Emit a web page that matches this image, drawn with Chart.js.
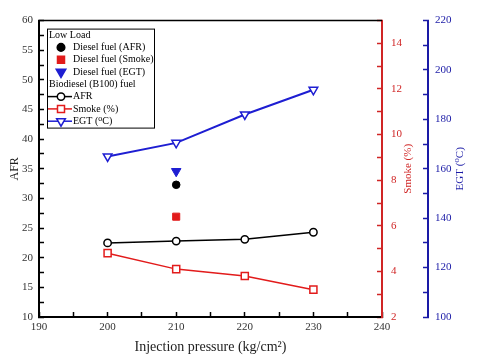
<!DOCTYPE html>
<html>
<head>
<meta charset="utf-8">
<script src="https://cdn.jsdelivr.net/npm/chart.js@4.4.0/dist/chart.umd.min.js"></script>
<style>
    html, body { margin: 0; padding: 0; background: #fff; }
</style>
</head>
<body>
<canvas id="chart-afr" width="480" height="360"></canvas>
<script>
// data
const tekanan = [200, 210, 220, 230];
const afrB100 = [22.5, 22.8, 23.1, 24.3];
const smokeB100 = [4.8, 4.1, 3.8, 3.2];
const egtB100 = [165, 170.5, 182, 192];
const tekananDiesel = [210];
const afrDiesel = [32.3];
const smokeDiesel = [6.4];
const egtDiesel = [159];

const merah = "#e21b1b";
const biru = "#1e1ed2";
const merahSumbu = "#d02525";
const biruSumbu = "#1a1aa6";
const fontSerif = '"Liberation Serif", "DejaVu Serif", serif';

Chart.defaults.font.family = fontSerif;

function toXY(xs, ys) {
    return xs.map((x, i) => ({ x: x, y: ys[i] }));
}

// frame line on top of the plot area + right axis titles (read bottom-to-top)
const bingkai = {
    id: "bingkai",
    beforeDatasetsDraw(chart) {
        const a = chart.chartArea;
        const ctx = chart.ctx;
        ctx.save();
        ctx.strokeStyle = "#000";
        ctx.lineWidth = 1.5;
        ctx.beginPath();
        ctx.moveTo(a.left, a.top);
        ctx.lineTo(a.right, a.top);
        ctx.stroke();

        [["y1", 26], ["y2", 32]].forEach(([id, geser]) => {
            const s = chart.scales[id];
            const t = s.options.title;
            ctx.save();
            ctx.translate(s.left + geser, (s.top + s.bottom) / 2);
            ctx.rotate(-Math.PI / 2);
            ctx.font = "11px " + fontSerif;
            ctx.fillStyle = t.color;
            ctx.textAlign = "center";
            ctx.textBaseline = "middle";
            ctx.fillText(t.text, 0, 0);
            ctx.restore();
        });
        ctx.restore();
    },
};

function gambarTitik(ctx, style, x, y, r, warna, isi) {
    ctx.beginPath();
    if (style === "circle") {
        ctx.arc(x, y, r, 0, Math.PI * 2);
    } else if (style === "rect") {
        ctx.rect(x - r * 0.7, y - r * 0.7, r * 1.4, r * 1.4);
    } else {
        // downward triangle
        ctx.moveTo(x - r * 0.87, y - r * 0.5);
        ctx.lineTo(x + r * 0.87, y - r * 0.5);
        ctx.lineTo(x, y + r);
        ctx.closePath();
    }
    ctx.fillStyle = isi;
    ctx.fill();
    ctx.strokeStyle = warna;
    ctx.lineWidth = 1.5;
    ctx.stroke();
}

// legend drawn inside the plot, with group headers
const legendaDalam = {
    id: "legendaDalam",
    afterDatasetsDraw(chart) {
        const a = chart.chartArea;
        const ctx = chart.ctx;
        const kiri = a.left + 8;
        const atas = a.top + 8;
        const baris = [
            { judul: "Low Load" },
            { ds: 3 },
            { ds: 4 },
            { ds: 5 },
            { judul: "Biodiesel (B100) fuel" },
            { ds: 0, garis: true },
            { ds: 1, garis: true },
            { ds: 2, garis: true },
        ];
        ctx.save();
        ctx.fillStyle = "#fff";
        ctx.fillRect(kiri, atas, 107, 99);
        ctx.strokeStyle = "#000";
        ctx.lineWidth = 1;
        ctx.strokeRect(kiri + 0.5, atas + 0.5, 107, 99);
        ctx.font = "10px " + fontSerif;
        ctx.textBaseline = "middle";
        baris.forEach((b, i) => {
            const y = atas + 6.5 + 12.3 * i;
            ctx.fillStyle = "#000";
            if (b.judul) {
                ctx.textAlign = "left";
                ctx.fillText(b.judul, kiri + 2, y);
                return;
            }
            const d = chart.data.datasets[b.ds];
            if (b.garis) {
                ctx.strokeStyle = d.borderColor;
                ctx.lineWidth = 1.5;
                ctx.beginPath();
                ctx.moveTo(kiri + 1, y);
                ctx.lineTo(kiri + 25, y);
                ctx.stroke();
            }
            gambarTitik(ctx, d.pointStyle, kiri + 14, y, d.pointRadius, d.pointBorderColor, d.pointBackgroundColor);
            ctx.fillStyle = "#000";
            ctx.textAlign = "left";
            ctx.fillText(d.label, kiri + 26, y);
        });
        ctx.restore();
    },
};

const chartAfr = new Chart(document.getElementById("chart-afr"), {
    type: "line",
    data: {
        datasets: [
            {
                label: "AFR",
                data: toXY(tekanan, afrB100),
                yAxisID: "y",
                borderColor: "#000",
                borderWidth: 1.5,
                pointStyle: "circle",
                pointRadius: 3.7,
                pointBorderColor: "#000",
                pointBackgroundColor: "#fff",
                pointBorderWidth: 1.5,
            },
            {
                label: "Smoke (%)",
                data: toXY(tekanan, smokeB100),
                yAxisID: "y1",
                borderColor: merah,
                borderWidth: 1.5,
                pointStyle: "rect",
                pointRadius: 5,
                pointBorderColor: merah,
                pointBackgroundColor: "#fff",
                pointBorderWidth: 1.5,
            },
            {
                label: "EGT (\u2070C)",
                data: toXY(tekanan, egtB100),
                yAxisID: "y2",
                borderColor: biru,
                borderWidth: 2,
                pointStyle: "triangle",
                pointRotation: 180,
                pointRadius: 5,
                pointBorderColor: biru,
                pointBackgroundColor: "#fff",
                pointBorderWidth: 1.5,
            },
            {
                label: "Diesel fuel (AFR)",
                data: toXY(tekananDiesel, afrDiesel),
                yAxisID: "y",
                showLine: false,
                borderColor: "#000",
                pointStyle: "circle",
                pointRadius: 3.8,
                pointBorderColor: "#000",
                pointBackgroundColor: "#000",
            },
            {
                label: "Diesel fuel (Smoke)",
                data: toXY(tekananDiesel, smokeDiesel),
                yAxisID: "y1",
                showLine: false,
                borderColor: merah,
                pointStyle: "rect",
                pointRadius: 5,
                pointBorderColor: merah,
                pointBackgroundColor: merah,
            },
            {
                label: "Diesel fuel (EGT)",
                data: toXY(tekananDiesel, egtDiesel),
                yAxisID: "y2",
                showLine: false,
                borderColor: biru,
                pointStyle: "triangle",
                pointRotation: 180,
                pointRadius: 5.5,
                pointBorderColor: biru,
                pointBackgroundColor: biru,
            },
        ],
    },
    options: {
        responsive: false,
        animation: false,
        layout: { padding: { top: 19, right: 0, left: 0, bottom: 0 } },
        plugins: {
            legend: { display: false },
            tooltip: { enabled: false },
        },
        scales: {
            x: {
                type: "linear",
                min: 190,
                max: 240,
                afterFit: (s) => { s.height = 43; },
                border: { color: "#000", width: 2 },
                grid: { drawOnChartArea: false, tickLength: -5, color: "#000", tickWidth: 1.5 },
                ticks: {
                    stepSize: 5,
                    autoSkip: false,
                    maxRotation: 0,
                    padding: 9,
                    color: "#333",
                    font: { size: 11 },
                    callback: (v) => (v % 10 === 0 ? v : ""),
                },
                title: {
                    display: true,
                    text: "Injection pressure (kg/cm\u00b2)",
                    color: "#222",
                    font: { size: 14 },
                    padding: { top: 0, bottom: 4 },
                },
            },
            y: {
                position: "left",
                min: 10,
                max: 60,
                afterFit: (s) => { s.width = 39; },
                border: { color: "#000", width: 2 },
                grid: { drawOnChartArea: false, tickLength: -5, color: "#000", tickWidth: 1.5 },
                ticks: {
                    stepSize: 2.5,
                    autoSkip: false,
                    padding: 11,
                    color: "#333",
                    font: { size: 11 },
                    callback: (v) => (v % 5 === 0 ? v : ""),
                },
                title: {
                    display: true,
                    text: "AFR",
                    color: "#222",
                    font: { size: 12 },
                    padding: { top: 8, bottom: 0 },
                },
            },
            y1: {
                position: "right",
                min: 2,
                max: 15,
                afterFit: (s) => { s.width = 46; },
                border: { color: merahSumbu, width: 2 },
                grid: { drawOnChartArea: false, tickLength: -5, color: merahSumbu, tickWidth: 1.5 },
                ticks: {
                    stepSize: 1,
                    autoSkip: false,
                    padding: 14,
                    color: merahSumbu,
                    font: { size: 11 },
                    callback: (v) => (v % 2 === 0 ? v : ""),
                },
                title: { display: false, text: "Smoke (%)", color: merahSumbu },
            },
            y2: {
                position: "right",
                min: 100,
                max: 220,
                afterFit: (s) => { s.width = 52; },
                border: { color: biruSumbu, width: 2 },
                grid: { drawOnChartArea: false, tickLength: -5, color: biruSumbu, tickWidth: 1.5 },
                ticks: {
                    stepSize: 10,
                    autoSkip: false,
                    padding: 12,
                    color: biruSumbu,
                    font: { size: 11 },
                    callback: (v) => (v % 20 === 0 ? v : ""),
                },
                title: { display: false, text: "EGT (\u2070C)", color: biruSumbu },
            },
        },
    },
    plugins: [bingkai, legendaDalam],
});
</script>
</body>
</html>
